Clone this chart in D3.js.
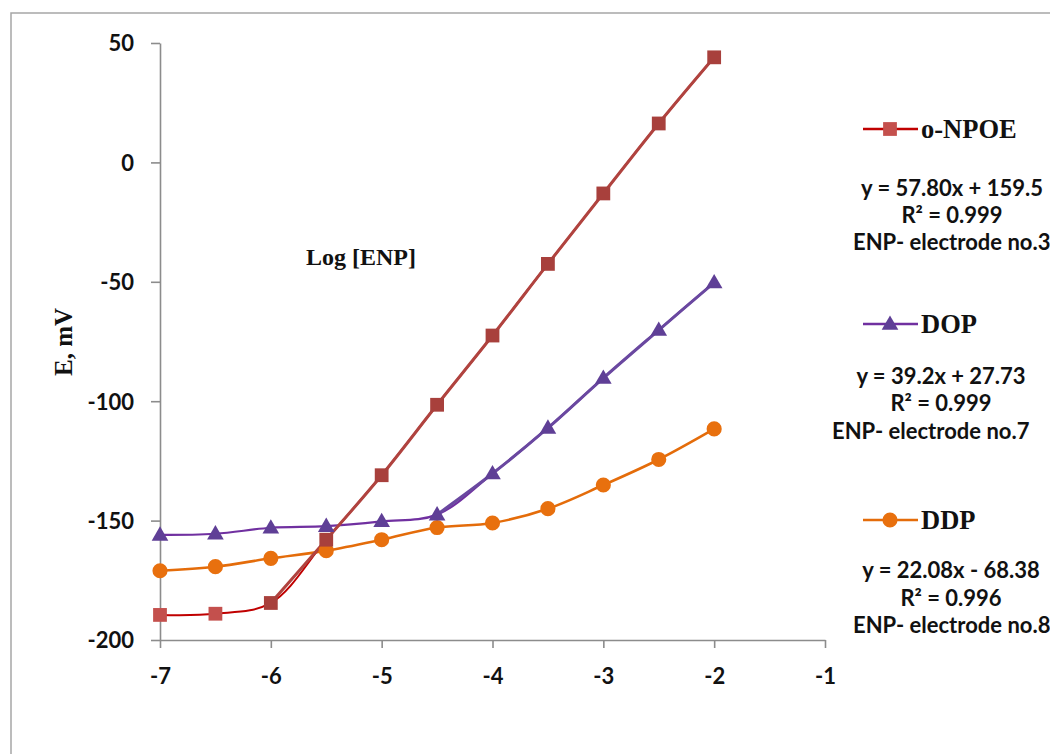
<!DOCTYPE html>
<html>
<head>
<meta charset="utf-8">
<script src="https://cdn.jsdelivr.net/npm/d3@7"></script>
<style>
  html, body { margin: 0; padding: 0; background: #fff; }
  svg { display: block; }
</style>
</head>
<body>
<svg id="chart" width="1050" height="754"></svg>
<script>
// Potential response of ENP electrodes vs. log concentration
const logC   = [-7, -6.5, -6, -5.5, -5, -4.5, -4, -3.5, -3, -2.5, -2];
const eNPOE  = [-189.5, -189, -184.5, -158, -131, -101.5, -72.5, -42.5, -13, 16.3, 44];
const eDOP   = [-156, -155.5, -153, -152.3, -150.3, -147.5, -130.3, -111.2, -90.3, -70.2, -50.3];
const eDDP   = [-171, -169.3, -165.8, -162.6, -158, -152.9, -151, -145, -135.1, -124.4, -111.6];

// start of the linear (Nernstian) range for each membrane
const linearFromNPOE = -6;
const linearFromDOP  = -4.5;

const xTicks = [-7, -6, -5, -4, -3, -2, -1];
const yTicks = [-200, -150, -100, -50, 0, 50];

const seriesNames = ["o-NPOE", "DOP", "DDP"];
const fitEquations = ["y = 57.80x + 159.5", "y = 39.2x + 27.73", "y = 22.08x - 68.38"];
const fitR2 = ["R² = 0.999", "R² = 0.999", "R² = 0.996"];
const electrodeNames = ["ENP- electrode no.3", "ENP- electrode no.7", "ENP- electrode no.8"];

const svg = d3.select("#chart");

// chart area frame
svg.append("rect")
  .attr("x", 11).attr("y", 13).attr("width", 1200).attr("height", 900)
  .attr("fill", "none").attr("stroke", "#a6a6a6").attr("stroke-width", 1.5);

const x = d3.scaleLinear().domain([-7, -1]).range([160, 825]);
const y = d3.scaleLinear().domain([-200, 50]).range([640, 43]);

const axisColor = "#8c8c8c";
const tickFont = "Lato, 'Open Sans', sans-serif";
const plainNum = d => String(d);   // hyphen-minus, as in the original axis labels

// y axis
const gy = svg.append("g").attr("transform", `translate(${x(-7)},0)`)
  .call(d3.axisLeft(y).tickValues(yTicks).tickFormat(plainNum)
    .tickSize(9).tickSizeOuter(0).tickPadding(17));
// x axis
const gx = svg.append("g").attr("transform", `translate(0,${y(-200)})`)
  .call(d3.axisBottom(x).tickValues(xTicks).tickFormat(plainNum)
    .tickSize(8).tickSizeOuter(0).tickPadding(20));

[gx, gy].forEach(g => {
  g.select(".domain").attr("stroke", axisColor).attr("stroke-width", 1.6);
  g.selectAll(".tick line").attr("stroke", axisColor).attr("stroke-width", 1.6);
  g.selectAll(".tick text")
    .attr("fill", "#111").attr("font-family", tickFont)
    .attr("font-weight", "bold").attr("font-size", 22);
});
gy.selectAll(".tick text").attr("dy", "0.36em");
gx.selectAll(".tick text").attr("dy", "0.72em");

// axis titles
svg.append("text")
  .attr("transform", "translate(72,342) rotate(-90)")
  .attr("text-anchor", "middle")
  .attr("font-family", "'Liberation Serif', 'Times New Roman', serif")
  .attr("font-weight", "bold").attr("font-size", 25).attr("fill", "#111")
  .text("E, mV");

svg.append("text")
  .attr("x", 306).attr("y", 265)
  .attr("font-family", "'Liberation Serif', 'Times New Roman', serif")
  .attr("font-weight", "bold").attr("font-size", 24).attr("fill", "#111")
  .text("Log [ENP]");

const line = d3.line()
  .x(d => x(d[0])).y(d => y(d[1]))
  .curve(d3.curveCatmullRom.alpha(0.5));

const pairs = vals => logC.map((c, i) => [c, vals[i]]);

const npoeAll = pairs(eNPOE);
const dopAll  = pairs(eDOP);
const ddpAll  = pairs(eDDP);
const npoeLin = npoeAll.filter(d => d[0] >= linearFromNPOE);
const dopLin  = dopAll.filter(d => d[0] >= linearFromDOP);

const plot = svg.append("g");

function drawLine(data, color, width) {
  plot.append("path").datum(data)
    .attr("fill", "none").attr("stroke", color)
    .attr("stroke-width", width).attr("stroke-linejoin", "round")
    .attr("d", line);
}

const squareSym = d3.symbol().type(d3.symbolSquare).size(190);
const triSym = d3.symbol().type(d3.symbolTriangle).size(120);
const circSym = d3.symbol().type(d3.symbolCircle).size(180);

function drawMarkers(data, sym, color, dy) {
  plot.selectAll(null).data(data).enter().append("path")
    .attr("d", sym)
    .attr("transform", d => `translate(${x(d[0])},${y(d[1]) + (dy || 0)})`)
    .attr("fill", color);
}

// DDP
drawLine(ddpAll, "#e46c0a", 2.6);
// DOP: full curve and linear range
drawLine(dopAll, "#7030a0", 2.2);
drawLine(dopLin, "#6a48a0", 3);
// o-NPOE: full curve and linear range
drawLine(npoeAll, "#c00000", 2);
drawLine(npoeLin, "#b0433f", 3);

drawMarkers(ddpAll, circSym, "#e8700e");
drawMarkers(dopAll.filter(d => d[0] < linearFromDOP), triSym, "#5f3f96", 1);
drawMarkers(dopLin, triSym, "#5f3f96", 1);
drawMarkers(npoeAll.filter(d => d[0] < linearFromNPOE), squareSym, "#c4504d");
drawMarkers(npoeLin, squareSym, "#a8403c");

// legend with calibration details
const legendLineColor = ["#c00000", "#7030a0", "#e46c0a"];
const legendMarkColor = ["#c4504d", "#5f3f96", "#e8700e"];
const legendSyms = [squareSym, triSym, circSym];
const legendY = [129, 324, 520];
const eqY = [[188, 215, 242], [376, 403, 431], [570, 598, 625]];
const eqCx = [952, 941, 951];
const elecX = [853, 832, 853];

const legend = svg.append("g");
seriesNames.forEach((name, i) => {
  const ly = legendY[i];
  legend.append("line")
    .attr("x1", 863).attr("x2", 918).attr("y1", ly).attr("y2", ly)
    .attr("stroke", legendLineColor[i]).attr("stroke-width", 2.6);
  legend.append("path").attr("d", legendSyms[i])
    .attr("transform", `translate(890,${ly + (i === 1 ? 1 : 0)})`)
    .attr("fill", legendMarkColor[i]);
  legend.append("text")
    .attr("x", 921).attr("y", ly + 9)
    .attr("font-family", "'Liberation Serif', 'Times New Roman', serif")
    .attr("font-weight", "bold").attr("font-size", 26.5).attr("fill", "#111")
    .text(name);

  const eqFont = "Lato, 'Open Sans', sans-serif";
  legend.append("text")
    .attr("x", eqCx[i]).attr("y", eqY[i][0] + 8).attr("text-anchor", "middle")
    .attr("font-family", eqFont).attr("font-weight", "bold").attr("font-size", 22).attr("fill", "#111")
    .text(fitEquations[i]);
  legend.append("text")
    .attr("x", eqCx[i]).attr("y", eqY[i][1] + 8).attr("text-anchor", "middle")
    .attr("font-family", eqFont).attr("font-weight", "bold").attr("font-size", 22).attr("fill", "#111")
    .text(fitR2[i]);
  legend.append("text")
    .attr("x", elecX[i]).attr("y", eqY[i][2] + 8)
    .attr("font-family", eqFont).attr("font-weight", "bold").attr("font-size", 22).attr("fill", "#111")
    .text(electrodeNames[i]);
});
</script>
</body>
</html>
